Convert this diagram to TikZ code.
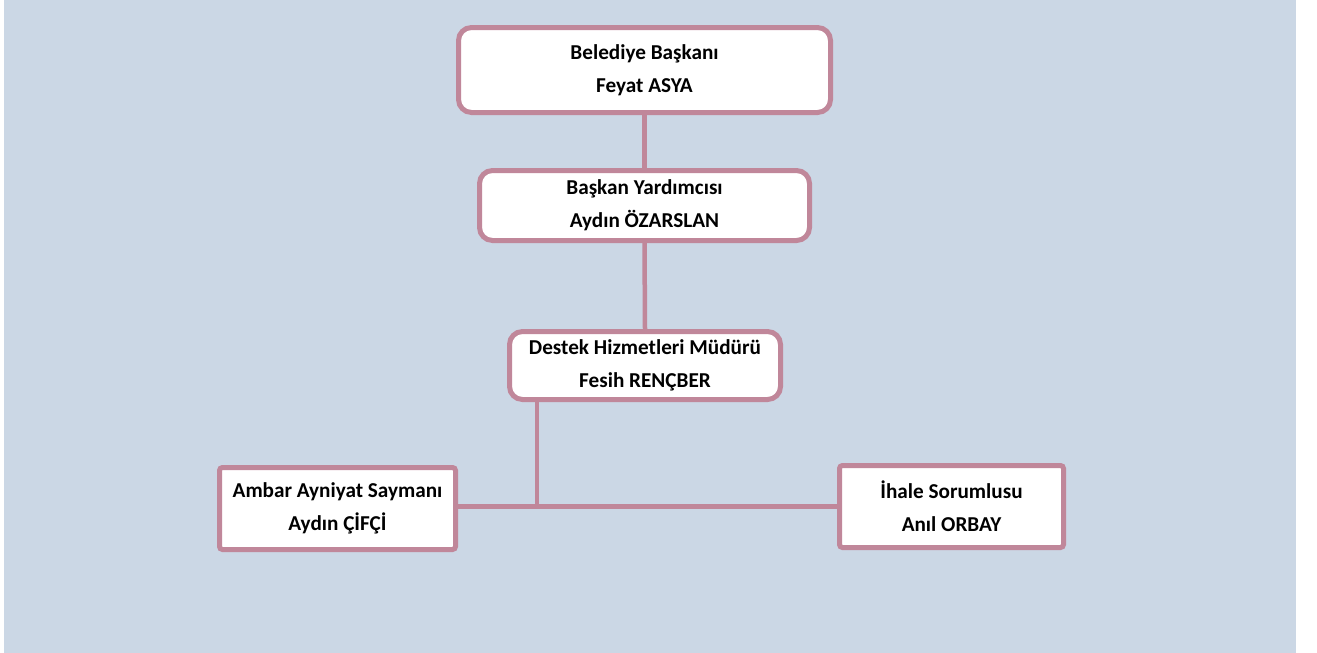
\documentclass[tikz,border=0pt]{standalone}
\usepackage{fontspec}
\setmainfont{Carlito}
\definecolor{panel}{HTML}{CBD7E5}
\definecolor{frame}{HTML}{C0879A}
\begin{document}
\begin{tikzpicture}[x=1pt,y=-1pt,
  unit/.style={draw=frame, line width=5pt, fill=white, align=center,
    font=\fontsize{21.2}{33}\selectfont\bfseries, inner sep=0pt},
  headbox/.style={unit, rounded corners=13pt},
  staffbox/.style={unit, rounded corners=3pt},
  link/.style={draw=frame, line width=4.5pt}]
  \useasboundingbox (0,0) rectangle (1317,653);
  \fill[panel] (4,0) rectangle (1296,653);

  \node[headbox, minimum width=372pt, minimum height=85pt] (b1) at (644.5,70)
    {Belediye Başkanı\\Feyat ASYA};
  \node[headbox, minimum width=330pt, minimum height=70pt] (b2) at (644.5,205.5)
    {Başkan Yardımcısı\\Aydın ÖZARSLAN};
  \node[headbox, minimum width=271pt, minimum height=68pt] (b3) at (645,365.5)
    {Destek Hizmetleri Müdürü\\Fesih RENÇBER};
  \node[staffbox, minimum width=236pt, minimum height=82pt] (b4) at (337.5,508.5)
    {Ambar Ayniyat Saymanı\\Aydın ÇİFÇİ};
  \node[staffbox, minimum width=224pt, minimum height=82pt] (b5) at (951.5,506.5)
    {İhale Sorumlusu\\Anıl ORBAY};

  % connectors: chain down the centre, then a branch to the two staff posts
  \coordinate (j) at (537,506.5);
  \draw[link] (b1.south) -- (b2.north);
  \draw[link] (b2.south) -- (b3.north);
  \draw[link] (b3.south -| j) -- (j);
  \draw[link] (b4.east |- j) -- (b5.west |- j);
\end{tikzpicture}
\end{document}
